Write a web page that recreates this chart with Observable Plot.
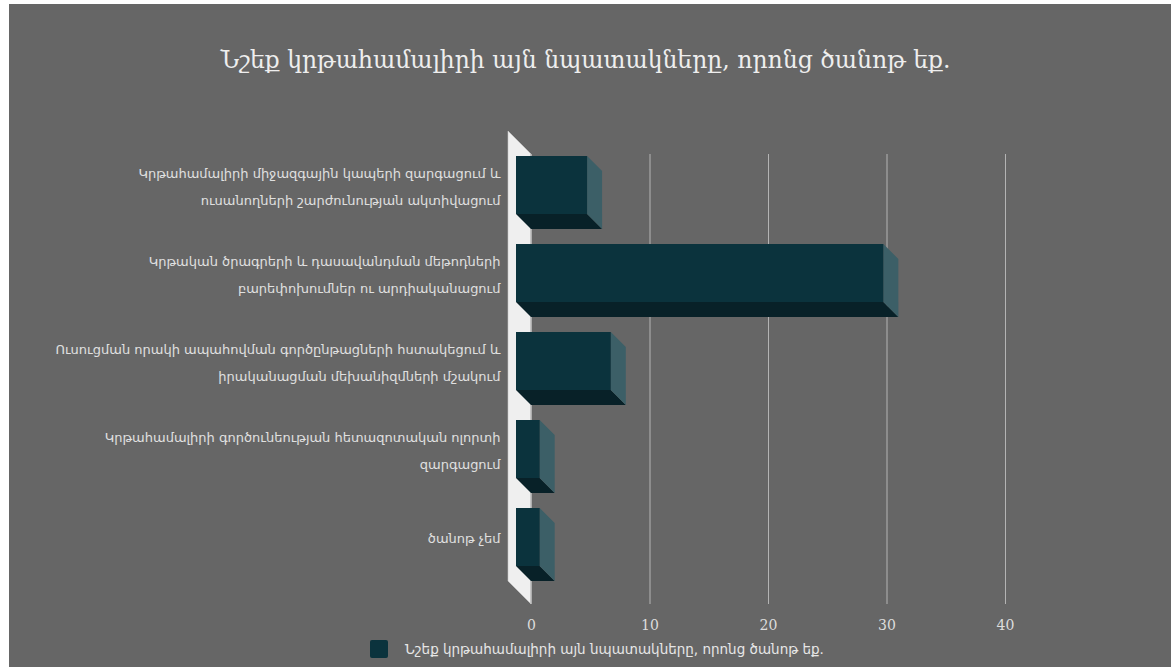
<!DOCTYPE html>
<html>
<head>
<meta charset="utf-8">
<script src="https://cdn.jsdelivr.net/npm/d3@7"></script>
<script src="https://cdn.jsdelivr.net/npm/@observablehq/plot@0.6"></script>
<style>
  html, body { margin: 0; padding: 0; background: #ffffff; }
  body { width: 1171px; height: 667px; position: relative; overflow: hidden; font-family: "DejaVu Sans", sans-serif; }
  #bg { position: absolute; left: 9px; top: 4px; width: 1162px; height: 663px; background: #666666; }
  #chart { position: absolute; left: 0; top: 0; }
  #title { position: absolute; left: 0; width: 1171px; top: 46px; text-align: center; color: #eeeeee; font-size: 23.5px; font-family: "DejaVu Serif", serif; }
  #legend { position: absolute; left: 370px; top: 640px; display: flex; align-items: center; color: #e6e6e6; font-size: 13.5px; }
  #legend .sw { width: 18px; height: 18px; background: #0b333d; border-radius: 2px; margin-right: 17px; }
</style>
</head>
<body>
<div id="bg"></div>
<div id="chart"></div>
<div id="title"></div>
<div id="legend"><span class="sw"></span><span id="legtext"></span></div>
<script>
const titleText = "Նշեք կրթահամալիրի այն նպատակները, որոնց ծանոթ եք.";
const categories = [
  "Կրթահամալիրի միջազգային կապերի զարգացում և ուսանողների շարժունության ակտիվացում",
  "Կրթական ծրագրերի և դասավանդման մեթոդների բարեփոխումներ ու արդիականացում",
  "Ուսուցման որակի ապահովման գործընթացների հստակեցում և իրականացման մեխանիզմների մշակում",
  "Կրթահամալիրի գործունեության հետազոտական ոլորտի զարգացում",
  "ծանոթ չեմ"
];
const tickLabels = [
  "Կրթահամալիրի միջազգային կապերի զարգացում և\nուսանողների շարժունության ակտիվացում",
  "Կրթական ծրագրերի և դասավանդման մեթոդների\nբարեփոխումներ ու արդիականացում",
  "Ուսուցման որակի ապահովման գործընթացների հստակեցում և\nիրականացման մեխանիզմների մշակում",
  "Կրթահամալիրի գործունեության հետազոտական ոլորտի\nզարգացում",
  "ծանոթ չեմ"
];
const values = [6, 31, 8, 2, 2];
const xTicks = [0, 10, 20, 30, 40];

document.getElementById("title").textContent = titleText;
document.getElementById("legtext").textContent = titleText;

const data = categories.map((c, i) => ({cat: c, value: values[i]}));
const labelOf = new Map(categories.map((c, i) => [c, tickLabels[i]]));
const D = 15;        // bar extrusion depth
const GT = 14.3, GB = 7.5; // grid inset top/bottom

function wallMark() {
  return (index, scales, vals, dims) => {
    const x0 = scales.x(0);
    const top = dims.marginTop + GT, bot = dims.height - dims.marginBottom - GB;
    const g = d3.create("svg:g");
    g.append("path")
      .attr("d", `M${x0 - 23},${top - 23}L${x0},${top}L${x0},${bot}L${x0 - 23},${bot - 23}Z`)
      .attr("fill", "#efefef").attr("stroke", "#c8c8c8").attr("stroke-width", 0.6);
    g.append("line").attr("x1", x0).attr("x2", x0).attr("y1", top).attr("y2", bot)
      .attr("stroke", "#bdbdbd").attr("stroke-width", 1.5);
    return g.node();
  };
}

function extrude(index, scales, values, dims, context, next) {
  const g = next(index, scales, values, dims, context);
  const rects = Array.from(g.querySelectorAll("rect"));
  for (const r of rects) {
    const l = +r.getAttribute("x"), t = +r.getAttribute("y");
    const w = +r.getAttribute("width"), h = +r.getAttribute("height");
    const R = l + w, b = t + h;
    const ns = "http://www.w3.org/2000/svg";
    const bottom = document.createElementNS(ns, "path");
    bottom.setAttribute("d", `M${l},${b}L${R},${b}L${R + D},${b + D}L${l + D},${b + D}Z`);
    bottom.setAttribute("fill", "#082128");
    const side = document.createElementNS(ns, "path");
    side.setAttribute("d", `M${R},${t}L${R + D},${t + D}L${R + D},${b + D}L${R},${b}Z`);
    side.setAttribute("fill", "#3c5f67");
    r.parentNode.insertBefore(bottom, r);
    r.parentNode.insertBefore(side, r);
  }
  return g;
}

const chart = Plot.plot({
  width: 1171,
  height: 667,
  marginLeft: 531,
  marginRight: 166,
  marginTop: 139.7,
  marginBottom: 55.5,
  style: {background: "transparent", fontFamily: "DejaVu Sans, sans-serif"},
  x: {domain: [0, 40], ticks: xTicks},
  y: {domain: categories, padding: 0.343},
  marks: [
    Plot.ruleX(xTicks.slice(1), {stroke: "#b4b4b4", strokeWidth: 1, strokeOpacity: 1, insetTop: GT, insetBottom: GB}),
    Plot.axisX({ticks: xTicks, tickSize: 0, tickPadding: 8, fontSize: 14, fill: "#dddddd", label: null, fontFamily: "DejaVu Serif, serif"}),
    Plot.axisY({tickSize: 0, tickPadding: 31, dy: -18, fontSize: 13, fill: "#e0e0e0", label: null, lineHeight: 2.1, tickFormat: d => labelOf.get(d)}),
    wallMark(),
    Plot.barX(data, {x: "value", y: "cat", fill: "#0b333d", dx: -D, dy: -D, render: extrude})
  ]
});
document.getElementById("chart").appendChild(chart);
</script>
</body>
</html>
